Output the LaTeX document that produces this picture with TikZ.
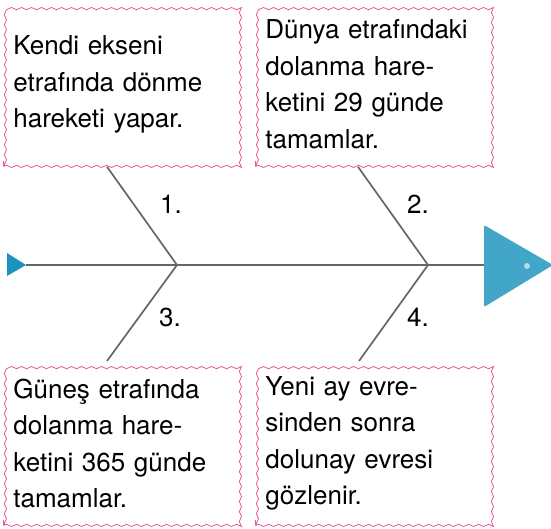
\documentclass[tikz,border=0pt]{standalone}
\usepackage{fontspec}
\setmainfont{TeX Gyre Heros}
\usetikzlibrary{decorations.pathmorphing,positioning}
\definecolor{wavepink}{HTML}{E8559C}
\definecolor{bonegray}{HTML}{666666}
\definecolor{headblue}{HTML}{42A6C9}
\definecolor{tailblue}{HTML}{1B93BF}
\tikzset{
  notebox/.style={draw=wavepink, line width=0.8pt, decorate,
    decoration={snake,amplitude=1.1pt,segment length=10pt},
    anchor=north west, minimum width=234pt, minimum height=164pt,
    text width=214pt, inner sep=10pt, align=left,
    font=\fontsize{26}{36.5}\selectfont},
  spine/.style={bonegray, line width=2.2pt},
  bone/.style={bonegray, line width=1.7pt},
  num/.style={font=\fontsize{26}{30}\selectfont},
}
\begin{document}
\begin{tikzpicture}[x=1pt,y=-1pt]
\useasboundingbox (0,0) rectangle (551,529);
% boxes
\node[notebox] (b1) at (3,2) {Kendi ekseni\\etrafında dönme\\hareketi yapar.};
\node[notebox] (b2) at (255,2) {Dünya etrafındaki\\dolanma hare-\\ketini 29 günde\\tamamlar.};
\node[notebox] (b3) at (3,361) {Güneş etrafında\\dolanma hare-\\ketini 365 günde\\tamamlar.};
\node[notebox] (b4) at (255,361) {Yeni ay evre-\\sinden sonra\\dolunay evresi\\gözlenir.};
% spine
\coordinate (tail) at (26,265);
\coordinate (head) at (484,265);
\coordinate (j1) at (177,265);
\coordinate (j2) at (428,265);
\draw[spine] (tail) -- (head);
\draw[bone] ([xshift=104pt]b1.south west) -- (j1) -- ([xshift=104pt]b3.north west);
\draw[bone] ([xshift=103pt]b2.south west) -- (j2) -- ([xshift=104pt]b4.north west);
% ends
\fill[tailblue] (7,253) -- (tail) -- (7,276) -- cycle;
\fill[headblue, rounded corners=2pt] (484,225) -- (553,265) -- (484,307) -- cycle;
\fill[white, opacity=0.6] (527,266) circle (3);
% numbers
\node[num] (n1) at (171,204) {1.};
\node[num] (n2) at (418,204) {2.};
\node[num] (n3) at (170,317) {3.};
\node[num] (n4) at (418,317) {4.};
\end{tikzpicture}
\end{document}
